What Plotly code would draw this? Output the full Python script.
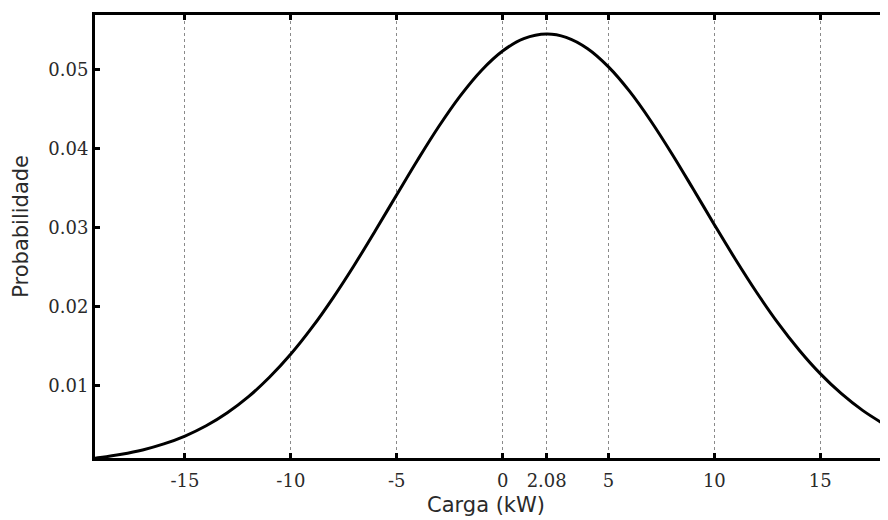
import plotly.graph_objects as go

# Values
carga_kw = [-19.25, -19, -18, -17, -16, -15, -14, -13, -12, -11, -10, -9, -8, -7, -6, -5,
            -4, -3, -2, -1, 0, 1, 2.08, 3, 4, 5, 6, 7, 8, 9, 10, 11, 12, 13, 14, 15,
            16, 17, 18, 18.3]
probabilidade = [0.00078, 0.00086, 0.00127, 0.00182, 0.00258, 0.00358, 0.00488, 0.00653,
                 0.00857, 0.01105, 0.01396, 0.01733, 0.02112, 0.02525, 0.02964, 0.03414,
                 0.03860, 0.04284, 0.04666, 0.04988, 0.05234, 0.05391, 0.05450, 0.05407,
                 0.05266, 0.05033, 0.04722, 0.04348, 0.03930, 0.03486, 0.03035, 0.02594,
                 0.02176, 0.01791, 0.01448, 0.01148, 0.00894, 0.00683, 0.00512, 0.00468]

x_tickvals = [-15, -10, -5, 0, 2.08, 5, 10, 15]
x_ticktext = ["-15", "-10", "-5", "0", "2.08", "5", "10", "15"]
y_tickvals = [0.01, 0.02, 0.03, 0.04, 0.05]
y_ticktext = ["0.01", "0.02", "0.03", "0.04", "0.05"]
x_title = "Carga (kW)"
y_title = "Probabilidade"

fig = go.Figure()
fig.add_trace(go.Scatter(
    x=carga_kw, y=probabilidade, mode="lines",
    line=dict(color="black", width=3, shape="spline"),
    showlegend=False, hoverinfo="skip"))

tick_font = dict(family="DejaVu Serif", size=18, color="#2a2a2a")
title_font = dict(family="DejaVu Sans", size=21, color="#2a2a2a")

fig.update_layout(
    width=888, height=520,
    margin=dict(l=87, r=8, t=4, b=70),
    paper_bgcolor="white", plot_bgcolor="white",
    xaxis=dict(
        range=[-19.25, 18.2],
        tickmode="array", tickvals=x_tickvals, ticktext=x_ticktext,
        ticks="inside", ticklen=5, tickwidth=3, tickcolor="black",
        showline=True, linecolor="black", linewidth=3, mirror="ticks",
        showgrid=True, gridcolor="#8a8a8a", griddash="dot", gridwidth=1,
        zeroline=False, ticklabelstandoff=4,
        tickfont=tick_font,
    ),
    yaxis=dict(
        range=[0.0008, 0.0569],
        tickmode="array", tickvals=y_tickvals, ticktext=y_ticktext,
        ticks="inside", ticklen=5, tickwidth=3, tickcolor="black",
        showline=True, linecolor="black", linewidth=3, mirror=False,
        showgrid=False, zeroline=False,
        tickfont=tick_font,
    ),
    annotations=[
        dict(text=x_title, xref="paper", yref="paper", x=0.493, y=-0.105,
             xanchor="center", yanchor="middle", showarrow=False, font=title_font),
        dict(text=y_title, xref="paper", yref="paper", x=-0.0933, y=0.522,
             xanchor="center", yanchor="middle", showarrow=False, textangle=-90,
             font=title_font),
    ],
)

fig.write_html("out.html")
